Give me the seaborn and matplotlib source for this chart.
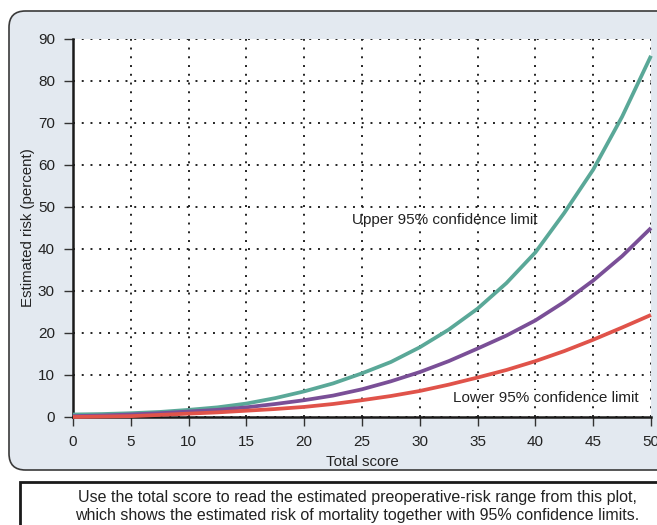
import matplotlib
matplotlib.use("Agg")
import matplotlib.pyplot as plt
from matplotlib.patches import FancyBboxPatch, Rectangle
import seaborn as sns
import pandas as pd

# ---- data ----
scores = [0, 2.5, 5, 7.5, 10, 12.5, 15, 17.5, 20, 22.5, 25, 27.5, 30, 32.5,
          35, 37.5, 40, 42.5, 45, 47.5, 50]
upper = [0.6, 0.7, 0.9, 1.2, 1.7, 2.3, 3.2, 4.5, 6.1, 8.0, 10.4, 13.1, 16.6,
         20.8, 25.8, 31.9, 39.2, 48.6, 58.9, 71.5, 86.0]
estimate = [0.2, 0.35, 0.6, 0.9, 1.3, 1.7, 2.3, 3.1, 4.0, 5.1, 6.6, 8.5, 10.7,
            13.3, 16.3, 19.4, 23.0, 27.4, 32.5, 38.3, 45.0]
lower = [0.0, 0.1, 0.2, 0.5, 0.8, 1.1, 1.5, 1.9, 2.4, 3.1, 4.0, 5.0, 6.2,
         7.7, 9.4, 11.2, 13.3, 15.7, 18.4, 21.3, 24.3]
x_ticks = [0, 5, 10, 15, 20, 25, 30, 35, 40, 45, 50]
y_ticks = [0, 10, 20, 30, 40, 50, 60, 70, 80, 90]
x_label = "Total score"
y_label = "Estimated risk (percent)"
upper_label = "Upper 95% confidence limit"
lower_label = "Lower 95% confidence limit"
caption = ("Use the total score to read the estimated preoperative-risk range from this plot,\n"
           "which shows the estimated risk of mortality together with 95% confidence limits.")

sns.set_theme(style="white")
plt.rcParams["font.family"] = ["Liberation Sans", "DejaVu Sans"]

W, H = 657, 525
fig = plt.figure(figsize=(W / 100, H / 100), dpi=100)
fig.patch.set_facecolor("white")

def fx(px):
    return px / W

def fy(py):
    return 1 - py / H

# panel background
panel = FancyBboxPatch((fx(9), fy(470)), fx(700) - fx(9), fy(11) - fy(470),
                       boxstyle="round,pad=0,rounding_size=0.025",
                       transform=fig.transFigure, facecolor="#e3e9f0",
                       edgecolor="#3a3a3a", linewidth=1.2, zorder=-2,
                       mutation_aspect=W / H)
fig.patches.append(panel)

# caption box
cap = Rectangle((fx(20), fy(540)), fx(700) - fx(20), fy(482) - fy(540),
                transform=fig.transFigure, facecolor="white",
                edgecolor="#1a1a1a", linewidth=2.0, zorder=-2)
fig.patches.append(cap)
fig.text(fx(357), fy(506.5), caption, ha="center", va="center",
         fontsize=11.5, color="#222222", linespacing=1.3)

ax = fig.add_axes([fx(73), fy(417), fx(651) - fx(73), fy(39) - fy(417)])
ax.set_facecolor("white")

df = pd.DataFrame({
    "score": scores * 3,
    "risk": upper + estimate + lower,
    "series": ["upper"] * len(scores) + ["estimate"] * len(scores) + ["lower"] * len(scores),
})
palette = {"upper": "#5aa898", "estimate": "#7a4f97", "lower": "#e0534a"}
sns.lineplot(data=df, x="score", y="risk", hue="series", palette=palette,
             linewidth=2.7, ax=ax, legend=False, zorder=3, clip_on=False)
for ln in ax.lines:
    ln.set_solid_capstyle("butt")
    ln.set_solid_joinstyle("round")

ax.set_xlim(0, 50)
ax.set_ylim(0, 90)
ax.set_xticks(x_ticks)
ax.set_yticks(y_ticks)
ax.grid(True, color="#222222", linestyle=(0, (1, 3.5)), linewidth=1.4)
ax.set_axisbelow(True)
for s in ["top", "right"]:
    ax.spines[s].set_visible(False)
for s in ["left", "bottom"]:
    ax.spines[s].set_color("#1a1a1a")
    ax.spines[s].set_linewidth(1.8)
    ax.spines[s].set_zorder(2)
ax.tick_params(axis="both", direction="out", length=6.5, width=1.0, color="#333333",
               labelsize=11, labelcolor="#222222", bottom=True, left=True, pad=6.5)
ax.set_xlabel(x_label, fontsize=10.8, color="#222222", labelpad=4)
ax.set_ylabel(y_label, fontsize=10.8, color="#222222", labelpad=2)

ax.text(32.2, 46.8, upper_label, ha="center", va="center", fontsize=11, color="#222222")
ax.text(40.9, 4.5, lower_label, ha="center", va="center", fontsize=11, color="#222222",
        bbox=dict(facecolor="white", edgecolor="none", pad=1))

fig.savefig("out.png", dpi=100, facecolor="white")
